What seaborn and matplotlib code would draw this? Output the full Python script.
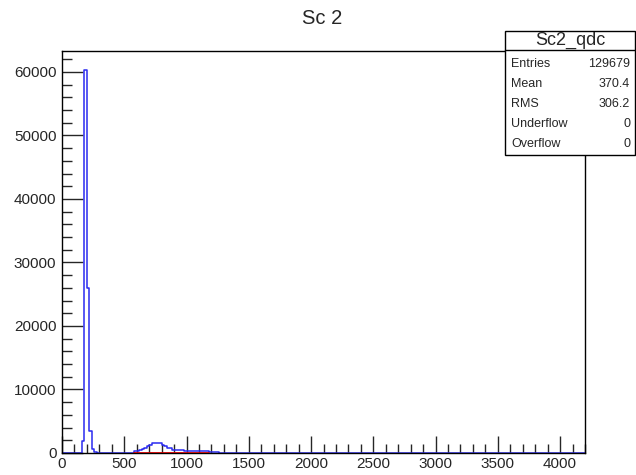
import numpy as np
import pandas as pd
import matplotlib
matplotlib.use("Agg")
import matplotlib.pyplot as plt
import seaborn as sns
from matplotlib.ticker import MultipleLocator
from matplotlib.patches import Rectangle

# ---- data ----
title = "Sc 2"
hist_name = "Sc2_qdc"
bin_centers = [170, 190, 210, 230, 250, 270,
               570, 590, 610, 630, 650, 670, 690, 710, 730, 750, 770, 790,
               810, 830, 850, 870, 890, 910, 930, 950, 970, 990,
               1010, 1030, 1050, 1070, 1090, 1110, 1130, 1150, 1170,
               1190, 1210, 1230, 1250]
counts = [1900, 60300, 26000, 3400, 600, 100,
          50, 300, 350, 420, 600, 800, 1050, 1300, 1550, 1600, 1600, 1550,
          1250, 1150, 850, 750, 550, 500, 420, 420, 420, 350,
          270, 260, 260, 260, 260, 250, 250, 250, 240,
          150, 80, 150, 150]
fit_x = [580, 1180]
fit_y = [0, 0]
stat_labels = ["Entries", "Mean", "RMS", "Underflow", "Overflow"]
stat_values = ["129679", "370.4", "306.2", "0", "0"]
x_ticks = [0, 500, 1000, 1500, 2000, 2500, 3000, 3500, 4000]
y_ticks = [0, 10000, 20000, 30000, 40000, 50000, 60000]

x_min, x_max, bin_w = 0, 4200, 20
y_max = 63300

sns.set_style("white")
plt.rcParams["font.family"] = ["Liberation Sans", "DejaVu Sans"]

fig = plt.figure(figsize=(6.36, 4.75), dpi=100)
ax = fig.add_axes([62/636, 22/475, (585-62)/636, (453-51)/475])

df = pd.DataFrame({"x": bin_centers, "w": counts})
sns.histplot(data=df, x="x", weights="w", binwidth=bin_w, binrange=(x_min, x_max),
             element="step", fill=False, color="#2a2af0", linewidth=1.1, ax=ax)
sns.lineplot(x=fit_x, y=fit_y, color="#ff0000", linewidth=1.3, ax=ax)

ax.set_xlim(x_min, x_max)
ax.set_ylim(0, y_max)
ax.set_xticks(x_ticks)
ax.set_yticks(y_ticks)
ax.set_xticklabels([str(t) for t in x_ticks])
ax.set_yticklabels([str(t) for t in y_ticks])
ax.xaxis.set_minor_locator(MultipleLocator(100))
ax.yaxis.set_minor_locator(MultipleLocator(2000))
ax.tick_params(axis="x", which="major", direction="in", length=12.5, width=1, labelsize=11, pad=3, top=False, bottom=True)
ax.tick_params(axis="x", which="minor", direction="in", length=6.5, width=1, top=False, bottom=True)
ax.tick_params(axis="y", which="major", direction="in", length=15, width=1, labelsize=11, pad=4, right=False, left=True)
ax.tick_params(axis="y", which="minor", direction="in", length=7.5, width=1, right=False, left=True)
ax.set_xlabel("")
ax.set_ylabel("")
for s in ax.spines.values():
    s.set_color("black")
    s.set_linewidth(1.0)
    s.set_visible(True)

fig.text(322/636, 1 - 18/475, title, ha="center", va="center", fontsize=14.5)

# stats box
bx0, bx1, by0, by1 = 505/636, 635/636, 1 - 155/475, 1 - 31/475
fig.patches.append(Rectangle((bx0, by0), bx1 - bx0, by1 - by0, transform=fig.transFigure,
                             facecolor="white", edgecolor="black", linewidth=1.0, zorder=5))
fig.add_artist(plt.Line2D([bx0, bx1], [1 - 50/475, 1 - 50/475], transform=fig.transFigure,
                          color="black", linewidth=1.0, zorder=6))
fig.text((bx0 + bx1) / 2, 1 - 40/475, hist_name, ha="center", va="center", fontsize=13, zorder=7)
for i, (lab, val) in enumerate(zip(stat_labels, stat_values)):
    yy = 1 - (64 + 20 * i) / 475
    fig.text(511/636, yy, lab, ha="left", va="center", fontsize=9, zorder=7)
    fig.text(630/636, yy, val, ha="right", va="center", fontsize=9, zorder=7)

fig.savefig("out.png", dpi=100)
